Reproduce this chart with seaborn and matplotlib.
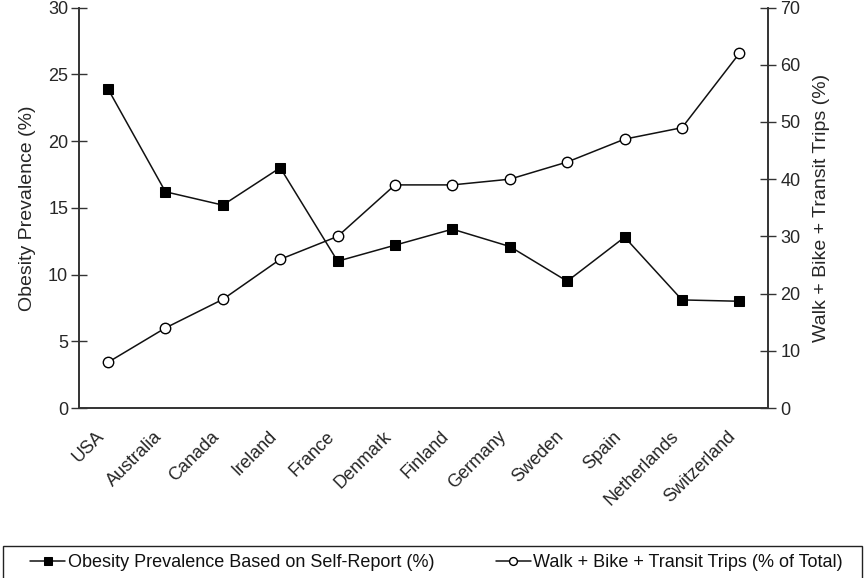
# Imports
import numpy as np
import pandas as pd
import matplotlib.pyplot as plt
import matplotlib.patches as mpatches
import seaborn as sns

# data
countries = ['USA', 'Australia', 'Canada', 'Ireland', 'France', 'Denmark',
             'Finland', 'Germany', 'Sweden', 'Spain', 'Netherlands', 'Switzerland']
obesity = [23.9, 16.2, 15.2, 18.0, 11.0, 12.2, 13.4, 12.1, 9.5, 12.8, 8.1, 8.0]
active_trips = [8, 14, 19, 26, 30, 39, 39, 40, 43, 47, 49, 62]

obesity_label = 'Obesity Prevalence Based on Self-Report (%)'
trips_label = 'Walk + Bike + Transit Trips (% of Total)'

df = pd.DataFrame({'country': countries,
                   'obesity': obesity,
                   'trips': active_trips})

sns.set_style('white')
plt.rcParams['font.family'] = ['Liberation Sans', 'DejaVu Sans']
plt.rcParams['text.color'] = '#111111'

fig, ax = plt.subplots(figsize=(8.65, 5.78), dpi=100)
fig.subplots_adjust(left=0.0917, right=0.888, top=0.987, bottom=0.294)
ax2 = ax.twinx()

sns.lineplot(data=df, x='country', y='obesity', ax=ax, color='#111111',
             linewidth=1.1, marker='s', markersize=7.5, markeredgecolor='black',
             markerfacecolor='black', sort=False, label=obesity_label, legend=False)
sns.lineplot(data=df, x='country', y='trips', ax=ax2, color='#111111',
             linewidth=1.1, marker='o', markersize=7.5, markeredgecolor='black',
             markeredgewidth=1.0, markerfacecolor='white', sort=False,
             label=trips_label, legend=False)

# axes ranges
ax.set_xlim(-0.5, len(countries) - 0.5)
ax.set_ylim(0, 30)
ax2.set_ylim(0, 70)
ax.set_yticks(np.arange(0, 31, 5))
ax2.set_yticks(np.arange(0, 71, 10))

# x ticks sit between categories, labels at the centres
ax.set_xticks(np.arange(len(countries)))
ax.set_xticklabels(countries, rotation=45, ha='right', va='bottom',
                   rotation_mode='anchor', fontsize=13)
ax.set_xticks(np.arange(-0.5, len(countries), 1.0), minor=True)
ax.tick_params(axis='x', which='major', length=0, pad=23)
ax.tick_params(axis='x', which='minor', direction='inout', length=12, width=1, color='#333333')
ax.tick_params(axis='y', direction='inout', length=12, width=1, color='#333333', labelsize=13, pad=2)
ax2.tick_params(axis='y', direction='inout', length=12, width=1, color='#333333', labelsize=13, pad=3)

ax.set_xlabel('')
ax.set_ylabel('Obesity Prevalence (%)', fontsize=14, labelpad=9)
ax2.set_ylabel('Walk + Bike + Transit Trips (%)', fontsize=14, labelpad=9)

for a in (ax, ax2):
    a.spines['top'].set_visible(False)
    for s in ('left', 'right', 'bottom'):
        a.spines[s].set_color('#333333')
        a.spines[s].set_linewidth(1.2)

# legend across the bottom, box drawn separately
h1, l1 = ax.get_legend_handles_labels()
h2, l2 = ax2.get_legend_handles_labels()
fig.legend(h1 + h2, l1 + l2, loc='center left', ncol=2, mode='expand',
           bbox_to_anchor=(0.0347, 0.0268, 0.94, 0),
           frameon=False, fontsize=13,
           handlelength=1.95, handletextpad=0.15, borderaxespad=0,
           borderpad=0, markerscale=0.75)
fig.patches.append(mpatches.Rectangle((0.0035, -0.02), 0.993, 0.0754,
                                      transform=fig.transFigure, fill=False,
                                      edgecolor='#222222', linewidth=1.0))

plt.savefig('out.png', dpi=100)
